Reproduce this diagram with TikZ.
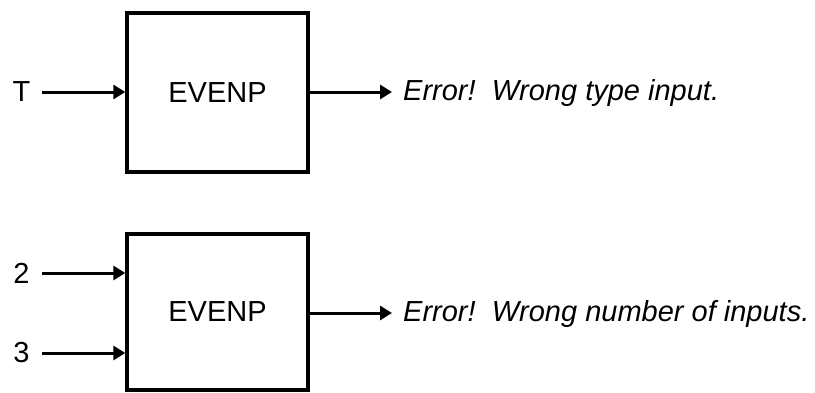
\documentclass[tikz,border=0pt]{standalone}
\usepackage{fontspec}
\setmainfont{Liberation Sans}
\usetikzlibrary{arrows.meta}
\begin{document}
\begin{tikzpicture}[x=1pt,y=1pt,
  every node/.style={font=\fontsize{29}{34}\selectfont},
  fbox/.style={draw,line width=3.4pt,minimum width=181pt,inner sep=0pt},
  conn/.style={line width=3pt,-{Triangle[length=12pt,width=14pt]}},
  lbl/.style={inner sep=0pt},
  errtxt/.style={inner sep=0pt,anchor=west,font=\fontsize{29}{34}\selectfont\itshape}]
\useasboundingbox (0,0) rectangle (815,392);
% top block
\node[fbox,minimum height=159pt] (b1) at (217.5,299.5) {EVENP};
\node[lbl] (t) at (21.5,300) {T};
\coordinate (t0) at (42,300);
\draw[conn] (t0) -- (b1.west |- t0);
\coordinate (o1) at (392,300);
\draw[conn] (b1.east |- o1) -- (o1);
\node[errtxt] (e1) at (403,299) {Error!\ \ Wrong type input.};
% bottom block
\node[fbox,minimum height=156pt] (b2) at (217.5,80) {EVENP};
\node[lbl] (n2) at (21.5,119) {2};
\coordinate (a2) at (42,119);
\draw[conn] (a2) -- (b2.west |- a2);
\node[lbl] (n3) at (21.5,39) {3};
\coordinate (a3) at (42,39);
\draw[conn] (a3) -- (b2.west |- a3);
\coordinate (o2) at (392,79);
\draw[conn] (b2.east |- o2) -- (o2);
\node[errtxt] (e2) at (403,78) {Error!\ \ Wrong number of inputs.};
\end{tikzpicture}
\end{document}
